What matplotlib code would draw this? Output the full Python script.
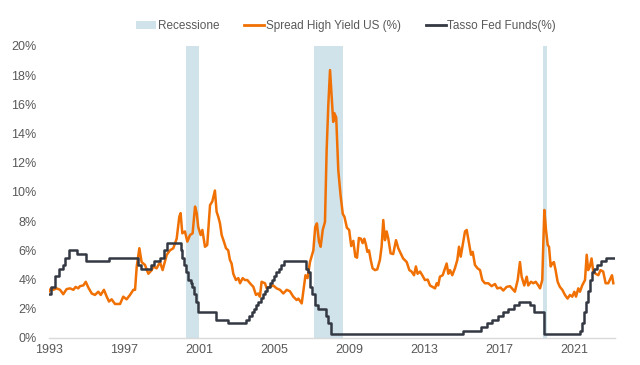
import numpy as np
import matplotlib
matplotlib.use('Agg')
import matplotlib.pyplot as plt
from matplotlib.patches import Patch
from matplotlib.lines import Line2D

plt.rcParams['font.family'] = ['Liberation Sans', 'DejaVu Sans']

#############################################################
# data (decimal year, percent)
hy_year = [1993.0, 1993.11, 1993.23, 1993.41, 1993.59, 1993.76, 1993.94, 1994.12, 1994.30, 1994.42,
           1994.56, 1994.65, 1994.83, 1994.96, 1995.10, 1995.28, 1995.45, 1995.63, 1995.76, 1995.93,
           1996.08, 1996.20, 1996.34, 1996.52, 1996.79, 1996.96, 1997.14, 1997.32, 1997.50, 1997.59,
           1997.68, 1997.82, 1997.94, 1998.12, 1998.30, 1998.48, 1998.56, 1998.74, 1998.92, 1999.06,
           1999.28, 1999.45, 1999.63, 1999.81, 1999.95, 2000.02, 2000.11, 2000.25, 2000.38, 2000.52,
           2000.66, 2000.79, 2000.88, 2000.96, 2001.09, 2001.18, 2001.32, 2001.44, 2001.59, 2001.71,
           2001.85, 2001.94, 2002.03, 2002.12, 2002.21, 2002.33, 2002.44, 2002.56, 2002.65, 2002.74,
           2002.83, 2002.97, 2003.10, 2003.19, 2003.33, 2003.45, 2003.58, 2003.72, 2003.90, 2004.04,
           2004.16, 2004.25, 2004.34, 2004.52, 2004.61, 2004.79, 2004.96, 2005.14, 2005.32, 2005.50,
           2005.68, 2005.85, 2006.03, 2006.21, 2006.30, 2006.48, 2006.60, 2006.68, 2006.79, 2006.92,
           2007.01, 2007.10, 2007.20, 2007.29, 2007.40, 2007.49, 2007.60, 2007.72, 2007.81, 2007.90,
           2007.99, 2008.08, 2008.16, 2008.22, 2008.32, 2008.43, 2008.55, 2008.67, 2008.76, 2008.89,
           2009.01, 2009.12, 2009.23, 2009.34, 2009.43, 2009.53, 2009.64, 2009.73, 2009.82, 2009.91,
           2009.98, 2010.07, 2010.16, 2010.26, 2010.39, 2010.51, 2010.65, 2010.74, 2010.83, 2010.92,
           2011.01, 2011.10, 2011.22, 2011.36, 2011.42, 2011.51, 2011.63, 2011.72, 2011.89, 2012.08,
           2012.22, 2012.34, 2012.47, 2012.57, 2012.66, 2012.79, 2012.91, 2013.05, 2013.20, 2013.32,
           2013.46, 2013.59, 2013.68, 2013.76, 2013.85, 2014.00, 2014.12, 2014.21, 2014.30, 2014.39,
           2014.51, 2014.65, 2014.78, 2014.87, 2014.96, 2015.10, 2015.19, 2015.28, 2015.40, 2015.51,
           2015.60, 2015.72, 2015.86, 2015.99, 2016.11, 2016.25, 2016.43, 2016.61, 2016.79, 2016.91,
           2017.09, 2017.23, 2017.41, 2017.59, 2017.76, 2017.85, 2018.00, 2018.12, 2018.21, 2018.35,
           2018.48, 2018.56, 2018.71, 2018.83, 2018.96, 2019.10, 2019.19, 2019.31, 2019.42, 2019.51,
           2019.60, 2019.67, 2019.76, 2019.84, 2019.93, 2020.02, 2020.13, 2020.25, 2020.38, 2020.52,
           2020.66, 2020.79, 2020.91, 2021.02, 2021.11, 2021.23, 2021.32, 2021.44, 2021.59, 2021.68,
           2021.76, 2021.85, 2021.94, 2022.03, 2022.16, 2022.30, 2022.42, 2022.56, 2022.69, 2022.83,
           2022.96, 2023.03, 2023.10]
hy_spread = [3.2, 3.4, 3.3, 3.4, 3.3, 3.0, 3.35, 3.4, 3.3, 3.5,
             3.4, 3.55, 3.6, 3.85, 3.45, 3.05, 2.95, 3.17, 2.95, 3.3,
             2.83, 2.5, 2.65, 2.33, 2.33, 2.83, 2.65, 2.95, 3.3, 3.3,
             4.9, 6.15, 5.2, 5.0, 4.4, 4.65, 4.9, 4.77, 5.2, 4.65,
             5.7, 6.0, 6.15, 6.8, 8.3, 8.55, 7.17, 7.3, 6.6, 7.05,
             7.17, 9.0, 8.55, 7.6, 7.05, 7.4, 6.25, 6.37, 9.1, 9.35,
             10.1, 8.65, 8.3, 7.85, 7.05, 6.6, 6.15, 6.0, 5.35, 5.1,
             4.4, 3.97, 4.1, 3.75, 4.1, 3.97, 3.97, 3.75, 3.5, 2.95,
             3.05, 2.83, 3.85, 3.75, 3.4, 3.5, 3.6, 3.4, 3.3, 3.05,
             3.3, 3.2, 2.83, 2.6, 2.7, 2.37, 3.5, 4.3, 4.1, 5.2,
             5.6, 6.0, 7.6, 7.85, 6.6, 6.25, 7.4, 7.95, 12.9, 16.0,
             18.35, 16.5, 14.8, 15.4, 15.1, 11.5, 9.8, 8.5, 8.3, 7.55,
             7.4, 6.3, 6.65, 5.57, 5.5, 6.85, 6.8, 6.5, 6.8, 6.37,
             5.9, 6.0, 5.35, 4.77, 4.65, 4.7, 5.35, 6.25, 8.08, 6.7,
             7.3, 6.8, 5.8, 5.75, 6.15, 6.7, 6.15, 5.9, 5.45, 5.2,
             4.65, 4.55, 4.3, 4.9, 4.4, 4.55, 4.3, 3.97, 4.0, 3.6,
             3.5, 3.4, 3.75, 3.6, 4.2, 4.3, 4.77, 5.1, 4.4, 4.65,
             4.3, 4.77, 5.35, 6.25, 5.57, 6.6, 7.3, 7.4, 6.5, 5.7,
             5.9, 5.0, 4.77, 4.65, 3.97, 3.75, 3.75, 3.55, 3.7, 3.4,
             3.45, 3.25, 3.5, 3.55, 3.3, 3.17, 3.97, 5.2, 4.2, 3.6,
             4.2, 3.6, 3.85, 3.75, 3.85, 3.6, 3.4, 3.97, 8.77, 7.4,
             6.37, 6.25, 4.9, 5.1, 5.2, 4.65, 3.85, 3.5, 3.3, 2.95,
             2.7, 2.95, 2.83, 3.17, 2.83, 3.4, 3.17, 3.6, 3.97, 5.7,
             4.65, 4.9, 5.45, 4.55, 4.4, 4.3, 4.65, 4.55, 3.75, 3.75,
             4.1, 4.3, 3.75]

ff_year = [1993.0, 1993.11, 1993.32, 1993.53, 1993.75, 1993.85, 1994.07, 1994.49, 1994.97, 1996.20,
           1997.75, 1997.91, 1998.44, 1998.60, 1998.92, 1999.13, 1999.29, 2000.04, 2000.12, 2000.20,
           2000.31, 2000.41, 2000.55, 2000.63, 2000.73, 2000.84, 2000.95, 2001.91, 2002.55, 2003.51,
           2003.67, 2003.83, 2003.93, 2004.04, 2004.15, 2004.31, 2004.41, 2004.52, 2004.63, 2004.79,
           2004.89, 2005.00, 2005.11, 2005.27, 2005.37, 2005.53, 2006.71, 2006.81, 2006.92, 2007.03,
           2007.19, 2007.35, 2007.77, 2007.88, 2008.04, 2015.08, 2016.04, 2016.36, 2016.63, 2016.95,
           2017.21, 2017.48, 2017.80, 2018.07, 2018.65, 2018.87, 2019.40, 2021.32, 2021.43, 2021.53,
           2021.64, 2021.75, 2021.85, 2021.96, 2022.07, 2022.23, 2022.44, 2022.71, 2023.13]
fed_funds = [3.0, 3.5, 4.25, 4.75, 5.0, 5.5, 6.0, 5.75, 5.25, 5.5,
             5.0, 4.75, 5.0, 5.25, 5.5, 6.0, 6.5, 6.0, 5.5, 5.0,
             4.5, 4.0, 3.75, 3.5, 3.0, 2.5, 1.75, 1.25, 1.0, 1.25,
             1.5, 1.75, 2.0, 2.25, 2.5, 2.75, 3.0, 3.25, 3.5, 3.75,
             4.0, 4.25, 4.5, 4.75, 5.0, 5.25, 4.75, 4.5, 3.5, 3.0,
             2.25, 2.0, 1.5, 1.0, 0.25, 0.5, 0.75, 1.0, 1.25, 1.5,
             1.75, 2.0, 2.25, 2.5, 2.25, 1.75, 0.25, 0.5, 1.0, 1.75,
             2.5, 3.25, 4.0, 4.5, 4.75, 5.0, 5.25, 5.5, 5.5]

recessions = [(2000.30, 2001.02), (2007.11, 2008.66), (2019.35, 2019.56)]
year_ticks = [1993, 1997, 2001, 2005, 2009, 2013, 2017, 2021]
pct_ticks = [0, 2, 4, 6, 8, 10, 12, 14, 16, 18, 20]

ORANGE = '#f07003'
DARK = '#333842'
BAND = '#d0e2ea'
GREY = '#595959'

######################################################
fig = plt.figure(figsize=(6.4, 3.65), dpi=100)
ax = fig.add_axes([49/640, 27/365, 566/640, 292/365])

for r0, r1 in recessions:
    ax.axvspan(r0, r1, color=BAND, lw=0, zorder=0)

ax.plot(hy_year, hy_spread, color=ORANGE, lw=1.8, zorder=2)
ax.plot(ff_year, fed_funds, color=DARK, lw=1.8, drawstyle='steps-post', zorder=3)

ax.set_xlim(1993, 2023.19)
ax.set_ylim(0, 20)
ax.set_xticks(year_ticks)
ax.set_xticklabels([str(y) for y in year_ticks])
ax.set_yticks(pct_ticks)
ax.set_yticklabels([f'{p}%' for p in pct_ticks])
ax.tick_params(axis='both', length=0, labelsize=9, colors=GREY)
ax.tick_params(axis='y', pad=9)
ax.tick_params(axis='x', pad=4)
for s in ('left', 'right', 'top'):
    ax.spines[s].set_visible(False)
ax.spines['bottom'].set_color('#d9d9d9')
ax.spines['bottom'].set_linewidth(1.0)

handles = [Patch(facecolor=BAND, edgecolor='none'),
           Line2D([], [], color=ORANGE, lw=2),
           Line2D([], [], color=DARK, lw=2)]
labels = ['Recessione', 'Spread High Yield US (%)', 'Tasso Fed Funds(%)']
fig.legend(handles, labels, loc='center', bbox_to_anchor=(346/640, 1 - 26/365), ncol=3,
           frameon=False, fontsize=8.5, handlelength=1.7, handletextpad=0.15, columnspacing=2.1,
           labelcolor=GREY, handleheight=0.6)

fig.savefig('out.png', dpi=100)
